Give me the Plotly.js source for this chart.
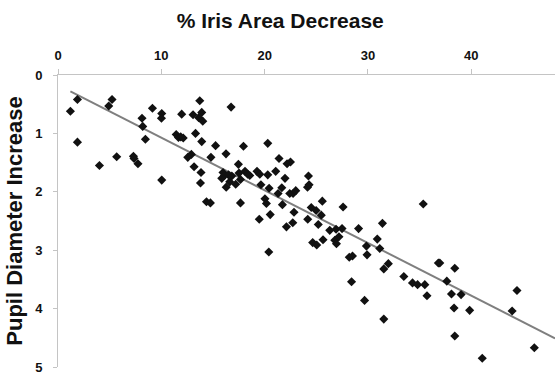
<!DOCTYPE html>
<html>
<head>
<meta charset="utf-8">
<script src="https://cdn.plot.ly/plotly-3.0.1.min.js"></script>
<style>html,body{margin:0;padding:0;background:#fff;}#chart{width:555px;height:374px;}</style>
</head>
<body>
<div id="chart"></div>
<script>
// % iris area decrease (x) and pupil diameter increase (y)
const irisDecrease = [
  1.20,1.88,1.88,4.01,4.91,5.23,5.68,7.30,7.36,7.74,
  8.13,8.20,8.46,9.14,10.04,10.01,10.04,11.44,11.66,11.88,
  12.12,11.97,12.56,12.91,13.17,13.07,13.31,13.62,14.01,13.72,
  13.91,13.91,13.84,13.79,14.37,14.75,14.80,15.25,16.75,16.26,
  17.95,20.30,17.46,15.97,16.11,16.50,16.82,15.85,16.62,17.20,
  16.28,17.52,17.66,18.10,18.36,18.56,19.26,19.53,20.30,21.07,
  21.39,22.17,22.50,21.97,24.24,19.64,20.43,21.30,21.66,22.43,
  22.75,23.01,24.15,24.30,17.66,20.03,20.17,21.72,22.84,20.54,
  19.48,22.72,22.11,24.17,20.40,25.58,24.51,24.98,25.48,27.59,
  25.19,26.30,26.91,27.49,29.09,31.40,35.35,24.65,25.04,25.65,
  26.79,26.95,27.19,28.19,28.50,29.85,30.90,31.14,29.91,31.53,
  31.97,33.47,28.41,29.67,31.53,34.31,34.80,35.50,35.71,36.81,
  36.95,38.40,37.63,38.08,39.01,38.33,39.84,38.40,41.06,44.42,
  43.95,46.10
];
const pupilIncrease = [
  0.62,0.42,1.15,1.55,0.53,0.42,1.40,1.39,1.43,1.52,
  0.74,0.88,1.10,0.57,0.66,0.74,1.80,1.02,1.07,1.06,
  1.08,0.67,1.41,1.36,1.57,0.68,1.00,0.73,0.79,0.44,
  0.64,1.14,1.67,1.85,2.17,2.19,1.41,1.21,0.55,1.35,
  1.22,1.17,1.53,1.67,1.72,1.71,1.73,1.77,1.83,1.87,
  1.92,1.68,1.79,1.65,1.70,1.72,1.65,1.70,1.71,1.65,
  1.43,1.52,1.49,1.77,1.73,1.88,1.94,2.03,1.93,2.03,
  2.03,1.98,1.92,1.88,2.19,2.12,2.20,2.22,2.35,2.39,
  2.47,2.53,2.60,2.47,3.03,2.16,2.27,2.32,2.40,2.26,
  2.56,2.66,2.64,2.63,2.63,2.54,2.21,2.87,2.91,2.82,
  2.83,2.89,2.77,3.12,3.10,2.93,2.81,2.97,3.08,3.32,
  3.23,3.45,3.54,3.86,4.18,3.56,3.59,3.59,3.78,3.22,
  3.22,3.31,3.53,3.75,3.76,3.99,4.03,4.47,4.85,3.69,
  4.04,4.67
];
// fitted regression line end points
const trendX = [1.2, 48.1];
const trendY = [0.28, 4.51];
const xTicks = [0, 10, 20, 30, 40];
const yTicks = [0, 1, 2, 3, 4, 5];

const font = 'Liberation Sans, Arial, sans-serif';

const traces = [
  {
    x: trendX, y: trendY, type: 'scatter', mode: 'lines',
    line: {color: '#7f7f7f', width: 2}, hoverinfo: 'skip', showlegend: false
  },
  {
    x: irisDecrease, y: pupilIncrease, type: 'scatter', mode: 'markers',
    marker: {symbol: 'diamond', size: 7, color: '#111111'}, showlegend: false
  }
];

const layout = {
  width: 555, height: 374,
  margin: {l: 58, r: 0, t: 75, b: 7, pad: 0},
  paper_bgcolor: '#ffffff', plot_bgcolor: '#ffffff',
  font: {family: font, color: '#111'},
  title: {
    text: '<b>% Iris Area Decrease</b>',
    font: {family: font, size: 21, color: '#111'},
    x: 0.505, xref: 'container', xanchor: 'center',
    y: 0.945, yref: 'container', yanchor: 'middle'
  },
  xaxis: {
    side: 'top', range: [0, 48.1], tickvals: xTicks, ticktext: xTicks.map(v => '<b>' + v + '</b>'),
    showgrid: false, zeroline: false, showline: true, linecolor: '#c4c4c4', linewidth: 1,
    ticks: 'outside', ticklen: 5, tickcolor: '#c4c4c4', tickwidth: 1,
    tickfont: {family: font, size: 13, color: '#111'},
    ticklabelstandoff: 4, ticklabeloverflow: 'allow'
  },
  yaxis: {
    range: [5, 0], tickvals: yTicks, ticktext: yTicks.map(v => '<b>' + v + '</b>'),
    showgrid: false, zeroline: false, showline: true, linecolor: '#c4c4c4', linewidth: 1,
    ticks: 'outside', ticklen: 4, tickcolor: '#c4c4c4', tickwidth: 1,
    tickfont: {family: font, size: 13, color: '#111'},
    ticklabelstandoff: 8, ticklabeloverflow: 'allow',
    title: {text: '<b>Pupil Diameter Increase</b>', font: {family: font, size: 22, color: '#111'}, standoff: 6}
  }
};

Plotly.newPlot('chart', traces, layout, {displayModeBar: false, staticPlot: true});
</script>
</body>
</html>
